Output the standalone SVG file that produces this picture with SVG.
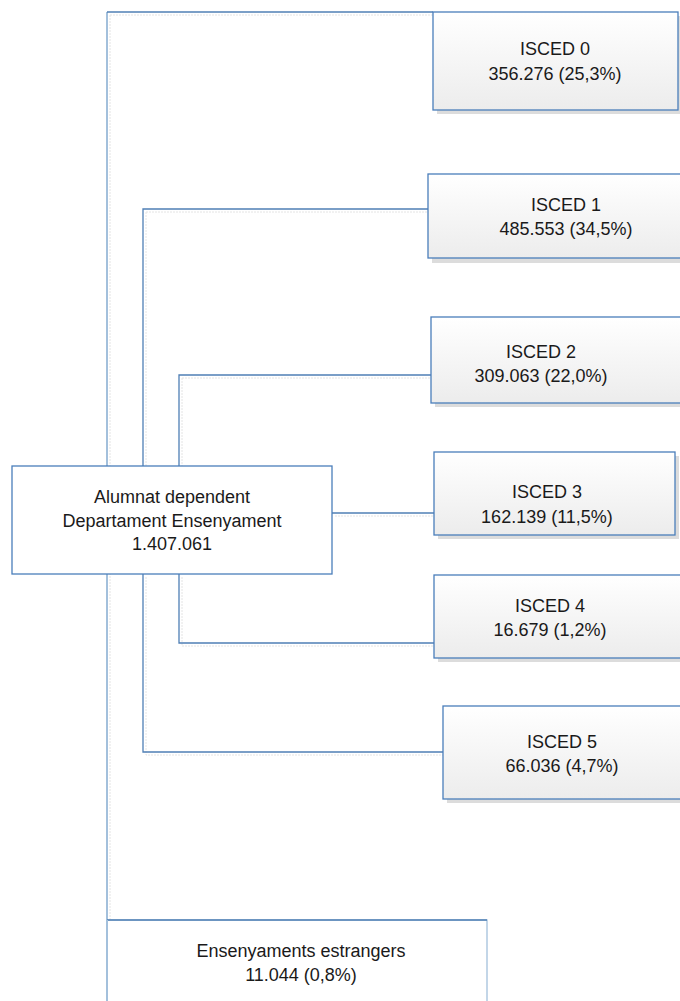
<svg xmlns="http://www.w3.org/2000/svg" width="680" height="1001" viewBox="0 0 680 1001">
<defs>
<linearGradient id="g" x1="0" y1="0" x2="0" y2="1">
<stop offset="0" stop-color="#ffffff"/>
<stop offset="1" stop-color="#ececec"/>
</linearGradient>
</defs>
<style>
.box{fill:url(#g);stroke:#4a7ebb;stroke-width:1.3}
.plain{fill:#ffffff;stroke:#4a7ebb;stroke-width:1.3}
.sh{fill:#dcdcdc}
.c{fill:none;stroke:#4f7fb5;stroke-width:1.3}
.cl{fill:none;stroke:#a3c0dc;stroke-width:2}
.cs{fill:none;stroke:#e4e4e4;stroke-width:1;stroke-dasharray:2 1}
text{font-family:"Liberation Sans",Arial,sans-serif;font-size:18px;fill:#1a1a1a;text-anchor:middle}
</style>
<rect width="680" height="1001" fill="#ffffff"/>
<g id="connectors">
<path class="cs" d="M110 15H436M110 15V923M146 212H431M146 212V469M182 378H434M182 378V469M335 516H437M182 577V646H437M146 577V755H446"/>
<path class="cl" d="M107 12V920"/>
<path class="c" d="M107 12H433"/>
<path class="c" d="M143 466V209H428"/>
<path class="c" d="M179 466V375H431"/>
<path class="c" d="M332 513H434"/>
<path class="c" d="M179 574V643H434"/>
<path class="c" d="M143 574V752H443"/>
</g>
<g id="isced0">
<rect class="sh" x="437" y="16" width="250" height="98"/>
<rect class="box" x="433" y="12" width="245" height="98"/>
<text x="555" y="55">ISCED 0</text>
<text x="555" y="80">356.276 (25,3%)</text>
</g>
<g id="isced1">
<rect class="sh" x="432" y="178" width="260" height="85"/>
<rect class="box" x="428" y="174" width="260" height="84"/>
<text x="566" y="211">ISCED 1</text>
<text x="566" y="235">485.553 (34,5%)</text>
</g>
<g id="isced2">
<rect class="sh" x="435" y="321" width="260" height="86"/>
<rect class="box" x="431" y="317" width="260" height="86"/>
<text x="541" y="358">ISCED 2</text>
<text x="541" y="382">309.063 (22,0%)</text>
</g>
<g id="isced3">
<rect class="sh" x="438" y="456" width="241" height="83"/>
<rect class="box" x="434" y="452" width="241" height="83"/>
<text x="547" y="498">ISCED 3</text>
<text x="547" y="523">162.139 (11,5%)</text>
</g>
<g id="isced4">
<rect class="sh" x="438" y="579" width="260" height="83"/>
<rect class="box" x="434" y="575" width="260" height="83"/>
<text x="550" y="612">ISCED 4</text>
<text x="550" y="636">16.679 (1,2%)</text>
</g>
<g id="isced5">
<rect class="sh" x="447" y="710" width="260" height="93"/>
<rect class="box" x="443" y="706" width="260" height="93"/>
<text x="562" y="748">ISCED 5</text>
<text x="562" y="772">66.036 (4,7%)</text>
</g>
<g id="main">
<rect class="plain" x="12" y="466" width="320" height="108"/>
<text x="172" y="503">Alumnat dependent</text>
<text x="172" y="527">Departament Ensenyament</text>
<text x="172" y="550">1.407.061</text>
</g>
<g id="estrangers">
<rect x="107" y="920" width="380" height="100" fill="#ffffff" stroke="#a3c0dc" stroke-width="1.3"/>
<path d="M107 920H487" stroke="#4f7fb5" stroke-width="1.3"/>
<path d="M107 920V1001" stroke="#a3c0dc" stroke-width="2"/>
<text x="301" y="957">Ensenyaments estrangers</text>
<text x="301" y="981">11.044 (0,8%)</text>
</g>
</svg>
